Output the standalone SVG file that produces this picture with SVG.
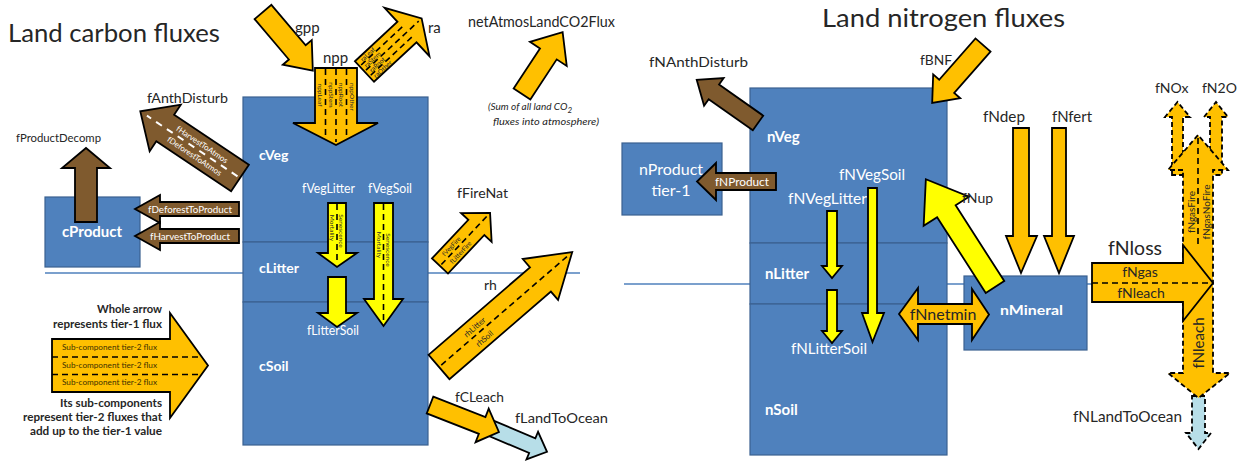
<svg xmlns="http://www.w3.org/2000/svg" width="1240" height="461" viewBox="0 0 1240 461">
<style>
text{font-family:Lato,"Liberation Sans",sans-serif;fill:#262626}
.w{fill:#fff}
.b{font-weight:700}
.box{fill:#4F81BD;stroke:#3B6190;stroke-width:1.2}
.or{fill:#FFC000;stroke:#000;stroke-width:1.8;stroke-linejoin:miter}
.ye{fill:#FFFF00;stroke:#000;stroke-width:1.8}
.br{fill:#7F5A2E;stroke:#000;stroke-width:1.8}
.lb{fill:#B7DEE8;stroke:#000;stroke-width:1.8}
.dl{stroke:#000;stroke-width:1.6;stroke-dasharray:6 4;fill:none}
.wd{stroke:#fff;stroke-width:2;stroke-dasharray:7 6;fill:none}
.do{stroke-dasharray:5 3}
.sep{stroke:#4F81BD;stroke-width:1.5}
.rc{text-anchor:middle;dominant-baseline:central}
.tiny{font-size:6.5px}
.sub{font-size:8px;fill:#3d3000}
.lg{font-size:11px;font-weight:700;text-anchor:end}
</style>
<rect width="1240" height="461" fill="#fff"/>
<g id="separators">
<line x1="45" y1="273" x2="580" y2="273" class="sep"/>
<line x1="624" y1="284" x2="1093" y2="284" class="sep"/>
</g>
<g id="carbon-title"><text x="8" y="42" font-size="25" textLength="212" lengthAdjust="spacingAndGlyphs">Land carbon fluxes</text></g>
<g id="nitrogen-title"><text x="822" y="27" font-size="25" textLength="243" lengthAdjust="spacingAndGlyphs">Land nitrogen fluxes</text></g>
<g id="cProduct"><rect class="box" x="45" y="197" width="95" height="70"/><text x="92" y="237" class="w b" font-size="15" text-anchor="middle">cProduct</text></g>
<g id="cVeg"><rect class="box" x="243" y="97" width="185" height="145"/><text x="259" y="160" class="w b" font-size="14">cVeg</text></g>
<g id="cLitter"><rect class="box" x="243" y="242" width="185" height="60"/><text x="259" y="273" class="w b" font-size="14">cLitter</text></g>
<g id="cSoil"><rect class="box" x="243" y="302" width="185" height="143"/><text x="259" y="371" class="w b" font-size="14">cSoil</text></g>
<g id="nProduct"><rect class="box" x="622" y="143" width="100" height="72"/><text x="671" y="175" class="w" font-size="16" text-anchor="middle">nProduct</text><text x="671" y="196" class="w" font-size="16" text-anchor="middle">tier-1</text></g>
<g id="nVeg"><rect class="box" x="750" y="88" width="197" height="155"/><text x="767" y="142" class="w b" font-size="15">nVeg</text></g>
<g id="nLitter"><rect class="box" x="750" y="243" width="197" height="61"/><text x="765" y="279" class="w b" font-size="15">nLitter</text></g>
<g id="nSoil"><rect class="box" x="750" y="304" width="197" height="151"/><text x="765" y="415" class="w b" font-size="15">nSoil</text></g>
<g id="nMineral"><rect class="box" x="964" y="276" width="123" height="74"/><text x="1000" y="315" class="w b" font-size="14" textLength="63" lengthAdjust="spacingAndGlyphs">nMineral</text></g>

<g id="legend">
<polygon class="or" points="52,339 170,339 170,313 208,365.5 170,418 170,392 52,392"/>
<path class="dl" d="M52,357H202M52,374.5H201"/>
<text class="sub" x="62" y="350" textLength="95" lengthAdjust="spacingAndGlyphs">Sub-component tier-2 flux</text>
<text class="sub" x="62" y="367.5" textLength="95" lengthAdjust="spacingAndGlyphs">Sub-component tier-2 flux</text>
<text class="sub" x="62" y="385" textLength="95" lengthAdjust="spacingAndGlyphs">Sub-component tier-2 flux</text>
<text class="lg" x="162" y="313" textLength="65" lengthAdjust="spacingAndGlyphs">Whole arrow</text>
<text class="lg" x="162" y="328" textLength="109" lengthAdjust="spacingAndGlyphs">represents tier-1 flux</text>
<text class="lg" x="162" y="407" textLength="102" lengthAdjust="spacingAndGlyphs">Its sub-components</text>
<text class="lg" x="162" y="421" textLength="139" lengthAdjust="spacingAndGlyphs">represent tier-2 fluxes that</text>
<text class="lg" x="162" y="435" textLength="132" lengthAdjust="spacingAndGlyphs">add up to the tier-1 value</text>
</g>

<g id="connectors">
<!-- carbon -->
<g id="gpp"><polygon class="or" transform="translate(263,12) rotate(49.7)" points="0,-11 53,-11 53,-19 77,0 53,19 53,11 0,11"/><text x="295" y="33" font-size="15">gpp</text></g>
<g id="npp"><polygon class="or" points="315,68 357,68 357,123 378,123 336,145 293,123 315,123"/>
<path class="dl" d="M325.5,69V136M336,69V142M346.5,69V136"/>
<text class="rc tiny" transform="translate(320,95) rotate(90)">nppLeaf</text>
<text class="rc tiny" transform="translate(331,95) rotate(90)">nppStem</text>
<text class="rc tiny" transform="translate(341,95) rotate(90)">nppRoot</text>
<text class="rc tiny" transform="translate(352,97) rotate(90)">nppOther</text>
<text x="323" y="63" font-size="15">npp</text></g>
<g id="ra"><g transform="translate(364.5,71.5) rotate(-42.9)"><polygon class="or" points="0,-14 58,-14 58,-33 78,0 58,33 58,14 0,14"/>
<path class="dl" d="M2,-7H62M2,0H74M2,7H62"/>
<text class="rc tiny" x="14" y="-10.5">raLeaf</text>
<text class="rc tiny" x="14" y="-3.5">raStem</text>
<text class="rc tiny" x="14" y="3.5">raRoot</text>
<text class="rc tiny" x="15" y="10.5">raOther</text></g>
<text x="428" y="33" font-size="15">ra</text></g>
<g id="netAtmosLandCO2Flux"><polygon class="or" transform="translate(522,94) rotate(-56.7)" points="0,-10 48,-10 48,-22 74,0 48,22 48,10 0,10"/>
<text x="468" y="27" font-size="14.5" textLength="147" lengthAdjust="spacingAndGlyphs">netAtmosLandCO2Flux</text>
<text x="488" y="110" font-size="10" font-style="italic" fill="#333">(Sum of all land CO<tspan dy="3" font-size="8">2</tspan></text>
<text x="493" y="125" font-size="10" font-style="italic" fill="#333" textLength="106" lengthAdjust="spacingAndGlyphs">fluxes into atmosphere)</text></g>
<g id="fAnthDisturb"><g transform="translate(240,178) rotate(213.8)"><polygon class="br" points="0,-16 90,-16 90,-28 120,0 90,28 90,16 0,16"/>
<path class="wd" d="M3,0H112"/>
<text class="rc w" font-size="8" transform="translate(50,7) rotate(180)">fHarvestToAtmos</text>
<text class="rc w" font-size="8" transform="translate(50,-7) rotate(180)">fDeforestToAtmos</text></g>
<text x="147" y="103" font-size="14" textLength="81" lengthAdjust="spacingAndGlyphs">fAnthDisturb</text></g>
<g id="fProductDecomp"><polygon class="br" points="75,222 75,168 62,168 86,148 110,168 97,168 97,222"/>
<text x="16" y="142" font-size="12" textLength="85" lengthAdjust="spacingAndGlyphs">fProductDecomp</text></g>
<g id="fDeforestToProduct"><polygon class="br" points="239,202 160,202 160,195 135,209 160,223 160,216 239,216"/>
<text class="w" x="148" y="212.5" font-size="9.5" textLength="84" lengthAdjust="spacingAndGlyphs">fDeforestToProduct</text></g>
<g id="fHarvestToProduct"><polygon class="br" points="239,229 160,229 160,222 135,236 160,250 160,243 239,243"/>
<text class="w" x="150" y="239.5" font-size="9.5" textLength="80" lengthAdjust="spacingAndGlyphs">fHarvestToProduct</text></g>
<g id="fVegLitter"><polygon class="ye" points="328,203 346,203 346,253 357,253 337,267 318,253 328,253"/>
<path class="dl" d="M337,204V262"/>
<text class="rc tiny" transform="translate(332.5,228) rotate(90)">Mortality</text>
<text class="rc tiny" transform="translate(341.5,231) rotate(90)">Senescence</text>
<text class="w" x="302" y="193" font-size="13" textLength="53" lengthAdjust="spacingAndGlyphs">fVegLitter</text></g>
<g id="fVegSoil"><polygon class="ye" points="374,203 393,203 393,299 403,299 383.5,326 364,299 374,299"/>
<path class="dl" d="M383.5,204V320"/>
<text class="rc tiny" transform="translate(379,245) rotate(90)">Mortality</text>
<text class="rc tiny" transform="translate(388,250) rotate(90)">Senescence</text>
<text class="w" x="368" y="193" font-size="13" textLength="44" lengthAdjust="spacingAndGlyphs">fVegSoil</text></g>
<g id="fLitterSoil"><polygon class="ye" points="328,277 346,277 346,313 357,313 337,327 318,313 328,313"/>
<text class="w" x="307" y="335" font-size="13" textLength="52" lengthAdjust="spacingAndGlyphs">fLitterSoil</text></g>
<g id="fFireNat"><g transform="translate(440,266) rotate(-46.7)"><polygon class="or" points="0,-11 53,-11 53,-21 73,0 53,21 53,11 0,11"/>
<path class="dl" d="M2,0H68"/>
<text class="rc tiny" x="22" y="-5.5">fVegFire</text>
<text class="rc tiny" x="24" y="5.5">fLitterFire</text></g>
<text x="457" y="198" font-size="14" textLength="51" lengthAdjust="spacingAndGlyphs">fFireNat</text></g>
<g id="rh"><g transform="translate(439,367) rotate(-40.8)"><polygon class="or" points="0,-16 134,-16 134,-27 176,0 134,27 134,16 0,16"/>
<path class="dl" d="M3,0H170"/>
<text class="rc" font-size="8" x="53" y="-7">rhLitter</text>
<text class="rc" font-size="8" x="53" y="8">rhSoil</text></g>
<text x="484" y="290" font-size="14">rh</text></g>
<g id="fLandToOcean"><polygon class="lb" transform="translate(488,427) rotate(22.8)" points="0,-8 48,-8 48,-15 64,0 48,15 48,8 0,8"/>
<text x="515" y="423" font-size="14" textLength="93" lengthAdjust="spacingAndGlyphs">fLandToOcean</text></g>
<g id="fCLeach"><polygon class="or" transform="translate(430,405) rotate(21.4)" points="0,-9 56,-9 56,-18 74,0 56,18 56,9 0,9"/>
<text x="455" y="402" font-size="14" textLength="49" lengthAdjust="spacingAndGlyphs">fCLeach</text></g>

<!-- nitrogen -->
<g id="fNAnthDisturb"><polygon class="br" transform="translate(758,123) rotate(215.2)" points="0,-9 54,-9 54,-17 75,0 54,17 54,9 0,9"/>
<text x="649" y="67" font-size="14" textLength="99" lengthAdjust="spacingAndGlyphs">fNAnthDisturb</text></g>
<g id="fBNF"><polygon class="or" transform="translate(983,45) rotate(131.3)" points="0,-10 55,-10 55,-18 77,0 55,18 55,10 0,10"/>
<text x="920" y="65" font-size="14" textLength="32" lengthAdjust="spacingAndGlyphs">fBNF</text></g>
<g id="fNProduct"><polygon class="br" points="776,173 716,173 716,163 697,181.5 716,200 716,190 776,190"/>
<text class="w" x="715" y="186" font-size="12" textLength="54" lengthAdjust="spacingAndGlyphs">fNProduct</text></g>
<g id="fNVegLitter"><polygon class="ye" points="827,211 837,211 837,266 842,266 832,278 822,266 827,266"/>
<text class="w" x="788" y="204" font-size="15" textLength="79" lengthAdjust="spacingAndGlyphs">fNVegLitter</text></g>
<g id="fNLitterSoil"><polygon class="ye" points="827,290 837,290 837,331 842,331 832,343 822,331 827,331"/>
<text class="w" x="791" y="354" font-size="15" textLength="76" lengthAdjust="spacingAndGlyphs">fNLitterSoil</text></g>
<g id="fNVegSoil"><polygon class="ye" points="868,188 877,188 877,313 884,313 872.5,342 862,313 868,313"/>
<text class="w" x="839" y="180" font-size="15" textLength="66" lengthAdjust="spacingAndGlyphs">fNVegSoil</text></g>
<g id="fNup"><polygon class="ye" transform="translate(995,287) rotate(-122.7)" points="0,-11 90,-11 90,-27 128,0 90,27 90,11 0,11"/>
<text x="962" y="203" font-size="14">fNup</text></g>
<g id="fNdep"><polygon class="or" points="1013,128 1029,128 1029,236 1037,236 1021,273 1006,236 1013,236"/>
<text x="983" y="122" font-size="15" textLength="42" lengthAdjust="spacingAndGlyphs">fNdep</text></g>
<g id="fNfert"><polygon class="or" points="1052,128 1066,128 1066,236 1074,236 1059,273 1044,236 1052,236"/>
<text x="1052" y="122" font-size="15" textLength="40" lengthAdjust="spacingAndGlyphs">fNfert</text></g>
<g id="fNnetmin"><polygon class="or" points="899,314 918,288 918,304 972,304 972,289 989,314.5 972,340 972,324 918,324 918,340"/>
<text x="943" y="320" font-size="16" text-anchor="middle">fNnetmin</text></g>
<g id="fNOx"><polygon class="or do" points="1172,175 1172,117 1165,117 1177.5,102 1190,117 1183,117 1183,175"/>
<text x="1155" y="93" font-size="14">fNOx</text></g>
<g id="fN2O"><polygon class="or do" points="1210,175 1210,117 1204,117 1216,102 1228,117 1222,117 1222,175"/>
<text x="1202" y="93" font-size="14">fN2O</text></g>
<g id="fNLandToOcean"><polygon class="lb do" points="1192,396 1205,396 1205,433 1211,433 1198.5,449 1186,433 1192,433"/>
<text x="1073" y="422" font-size="15" textLength="109" lengthAdjust="spacingAndGlyphs">fNLandToOcean</text></g>
<g id="fNgas-fNleach"><polygon class="or do" points="1183,170 1168,170 1198,135 1228,170 1213,170 1213,373 1230,373 1198.5,398 1168,373 1183,373"/>
<path class="dl" d="M1198,138V245"/>
<text class="rc" font-size="10" transform="translate(1191,212) rotate(-90)">fNgasFire</text>
<text class="rc" font-size="10" transform="translate(1205.5,212) rotate(-90)">fNgasNoFire</text>
<text class="rc" font-size="15" transform="translate(1198,343) rotate(-90)">fNleach</text></g>
<g id="fNloss"><polygon class="or" points="1092,263 1183,263 1183,245 1213,283 1183,321 1183,302 1092,302"/>
<path class="dl" d="M1092,283H1212"/>
<text x="1140" y="277" font-size="14" text-anchor="middle">fNgas</text>
<text x="1141" y="298" font-size="14" text-anchor="middle">fNleach</text>
<text x="1108" y="255" font-size="19" textLength="54" lengthAdjust="spacingAndGlyphs">fNloss</text></g>
</g>
</svg>
